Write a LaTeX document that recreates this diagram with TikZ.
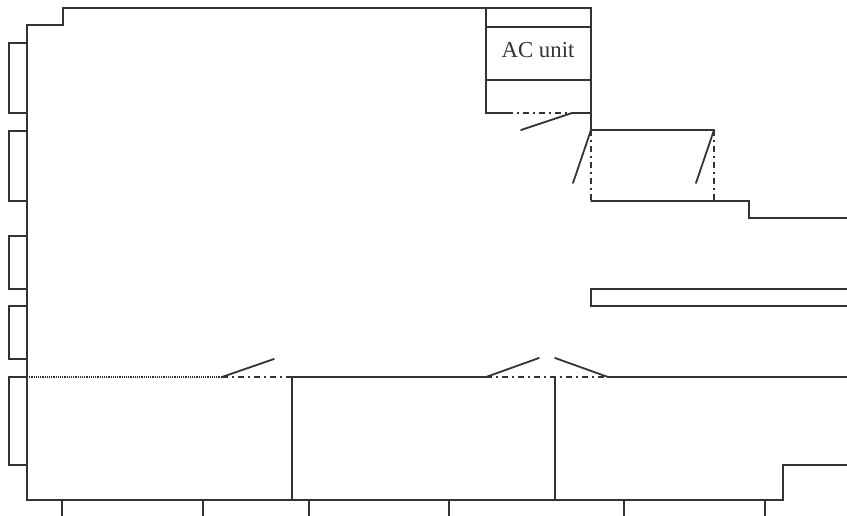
\documentclass[tikz,border=0pt]{standalone}
\usepackage{fontspec}
\setmainfont{Liberation Serif}
\definecolor{wallc}{HTML}{333333}
\tikzset{
  wall/.style={draw=wallc,line width=1.5pt,line cap=round,line join=miter},
  thin wall/.style={draw=wallc,line width=1.4pt},
  door/.style={draw=wallc,line width=1.8pt,line cap=round},
  opening/.style={draw=wallc,line width=1.4pt,dash pattern=on 6pt off 4pt on 2pt off 4pt},
  dotline/.style={draw=wallc,line width=1.2pt,dash pattern=on 1.1pt off 1.1pt},
  label/.style={font=\fontsize{22.8}{26}\selectfont,text=wallc,inner sep=0pt}
}
\begin{document}
\begin{tikzpicture}[x=1pt,y=-1pt]
\useasboundingbox (0,0) rectangle (847,516);
% outer wall, top
\draw[wall] (27,377) -- (27,25) -- (63,25) -- (63,8) -- (591,8) -- (591,130) -- (714,130);
% left wall below the dotted line and bottom wall
\draw[wall] (27,377) -- (27,500) -- (783,500) -- (783,465) -- (847,465);
% AC room
\draw[wall] (486,8) -- (486,113) -- (507,113);
\draw[thin wall] (486,27) -- (591,27);
\draw[thin wall] (486,80) -- (591,80);
\draw[wall] (572,113) -- (591,113);
\node[label] (ac) at (538,50) {AC unit};
\draw[opening] (507,113) -- (572,113);
\draw[door] (572,113) -- (521,130);
% small room at right
\draw[opening] (591,130) -- (591,201);
\draw[opening] (714,130) -- (714,201);
\draw[door] (591,130) -- (573,183);
\draw[door] (714,130) -- (696,183);
\draw[wall] (591,201) -- (749,201) -- (749,218) -- (847,218);
% corridor wall
\draw[wall] (847,289) -- (591,289) -- (591,306) -- (847,306);
% windows, left
\draw[thin wall] (27,43) -- (9,43) -- (9,113) -- (27,113);
\draw[thin wall] (27,131) -- (9,131) -- (9,201) -- (27,201);
\draw[thin wall] (27,236) -- (9,236) -- (9,289) -- (27,289);
\draw[thin wall] (27,306) -- (9,306) -- (9,359) -- (27,359);
\draw[thin wall] (27,377) -- (9,377) -- (9,465) -- (27,465);
% long horizontal line
\draw[dotline] (27,377) -- (222,377);
\draw[opening] (222,377) -- (292,377);
\draw[door] (222,377) -- (274,359);
\draw[wall] (292,377) -- (486,377);
\draw[opening] (486,377) -- (608,377);
\draw[door] (486,377) -- (539,358);
\draw[door] (608,377) -- (555,358);
\draw[wall] (608,377) -- (847,377);
% partitions
\draw[wall] (292,377) -- (292,500);
\draw[wall] (555,377) -- (555,500);
% windows, bottom
\draw[thin wall] (62,500) -- (62,516);
\draw[thin wall] (203,500) -- (203,516);
\draw[thin wall] (309,500) -- (309,516);
\draw[thin wall] (449,500) -- (449,516);
\draw[thin wall] (624,500) -- (624,516);
\draw[thin wall] (765,500) -- (765,516);
\end{tikzpicture}
\end{document}
